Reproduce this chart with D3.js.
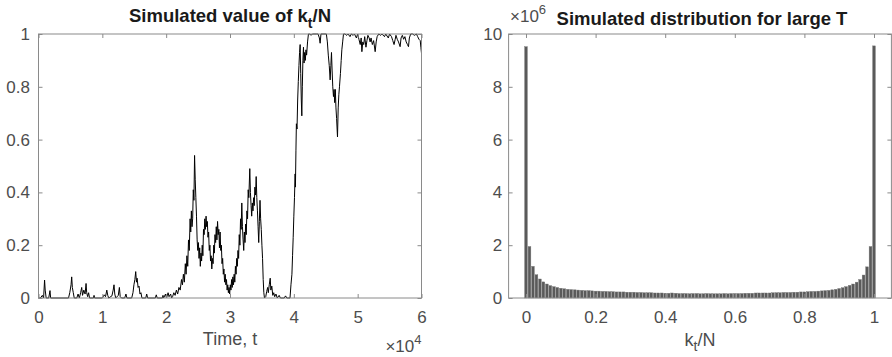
<!DOCTYPE html>
<html><head><meta charset="utf-8">
<script src="https://cdn.jsdelivr.net/npm/d3@7"></script>
<style>
body{margin:0;background:#fff}
svg{display:block}
text{font-family:"Liberation Sans",Arial,Helvetica,sans-serif}
</style>
</head><body>
<svg id="chart" width="892" height="357"></svg>
<script>
// ---- Left panel: simulated path of k_t/N ----
const timeSteps = [0,300,600,800,950,1050,1200,1600,1800,1900,4700,4900,5100,5200,5300,5450,5600,6000,6200,6400,6600,6770,6900,7100,7300,7450,7550,7700,7850,8000,8600,8700,8800,10000,10300,10500,10700,10850,11000,11500,11700,11830,11950,12100,12500,12670,12800,13000,13500,13700,13850,14600,14800,14950,15100,15230,15350,15450,15600,15750,15900,16050,16200,16800,16950,17100,18300,18450,18600,19400,19500,19600,19900,20050,20300,20450,20700,20850,
21000,21200,21400,21600,21800,22000,22200,22400,22550,22700,22850,23000,23120,23250,23380,23500,23620,23750,23850,23950,24050,24150,24250,24350,24450,24550,24650,24750,24850,24950,25050,25150,25250,25350,25450,25550,25650,25750,25850,25950,26050,26150,26250,26350,26450,26550,26650,26750,26850,26950,27050,27150,27250,27350,27450,27550,27650,27750,27850,27950,28050,28150,28250,28350,28450,28550,28650,28750,28850,28950,29050,29150,29250,29350,29450,29550,29650,29750,29850,29950,30050,30150,30250,30350,30450,30550,30650,30750,30850,30950,31050,31150,31250,31350,31450,31550,31650,31750,31850,31950,32050,32150,32250,32350,32450,32550,32650,32750,32850,32950,33100,33200,33300,33400,33500,33600,33700,33800,33900,34000,34100,34200,34300,34400,34500,34600,34700,34800,34900,35000,35100,35200,35300,35400,35600,35750,35900,36000,36150,36300,36400,36550,36700,36850,37000,37200,37400,37700,37900,38500,38700,38900,39400,39550,39700,39800,39900,40000,40100,40200,40250,40330,40400,40500,40600,40700,40800,40900,40990,41080,41170,41250,41330,41420,41510,41600,41700,41800,41900,42000,42150,42290,42500,42700,42900,43500,43800,44000,44120,44250,45100,45250,45400,45550,45690,45800,45900,46000,46100,46210,46300,46400,46500,46600,46700,46840,46950,47050,47150,47300,47420,47520,47650,47780,48000,48300,48500,48800,49000,49300,49500,49800,50000,50200,50400,50550,50660,50800,50950,51100,51300,51450,51600,51800,51950,52100,52300,52500,52740,52900,53050,53300,53600,53800,54200,54400,54800,55000,55300,55500,55700,55880,56000,56200,56400,56650,56800,57000,57200,57400,57600,57800,57960,58100,58300,58600,58900,59200,59400,59600,59800,59900,60000];
const kOverN = [0,0,0.01,0,0.068,0.03,0,0,0.028,0,0,0.02,0.05,0.08,0.04,0.02,0,0,0.015,0,0.02,0.04,0.01,0.03,0.015,0.055,0.02,0.005,0.02,0,0,0.01,0,0,0.012,0.005,0.03,0.01,0,0.008,0.03,0.05,0.015,0,0.01,0.04,0.005,0,0,0.015,0,0,0.02,0.05,0.07,0.1,0.06,0.075,0.04,0.045,0.015,0.02,0,0,0.015,0,0,0.012,0,0,0.01,0,0.015,0,0.02,0.005,0.015,0,
0.005,0.02,0.01,0.03,0.015,0.04,0.03,0.07,0.05,0.09,0.06,0.13,0.09,0.16,0.12,0.22,0.18,0.30,0.25,0.33,0.27,0.30,0.41,0.37,0.54,0.45,0.38,0.31,0.22,0.18,0.21,0.15,0.19,0.12,0.17,0.14,0.20,0.16,0.26,0.24,0.30,0.26,0.31,0.27,0.29,0.23,0.25,0.18,0.20,0.14,0.16,0.11,0.15,0.13,0.20,0.17,0.24,0.21,0.27,0.22,0.29,0.24,0.26,0.19,0.25,0.18,0.20,0.13,0.15,0.09,0.11,0.06,0.09,0.05,0.07,0.03,0.05,0.02,0.04,0.015,0.05,0.03,0.07,0.04,0.08,0.05,0.09,0.06,0.12,0.09,0.15,0.12,0.18,0.15,0.24,0.20,0.30,0.26,0.36,0.27,0.22,0.18,0.25,0.21,0.28,0.24,0.33,0.30,0.41,0.38,0.49,0.40,0.35,0.31,0.36,0.33,0.38,0.35,0.42,0.39,0.46,0.38,0.33,0.27,0.21,0.29,0.37,0.30,0.26,0.20,0.15,0.07,0.02,0,0.005,0.025,0.04,0.02,0.05,0.075,0.03,0.045,0.01,0.02,0.005,0.015,0,0.01,0,0,0.008,0,0,0.05,0.09,0.16,0.23,0.31,0.38,0.47,0.42,0.56,0.66,0.64,0.75,0.82,0.88,0.93,0.96,0.85,0.75,0.69,0.80,0.90,0.95,0.89,0.93,0.90,0.94,0.92,0.97,1,1,0.995,1,1,1,0.985,0.965,1,1,0.97,0.92,0.88,0.826,0.88,0.93,0.86,0.80,0.763,0.79,0.74,0.79,0.72,0.68,0.61,0.72,0.77,0.80,0.85,0.90,0.94,0.97,1,1,0.995,1,0.99,1,0.995,1,0.985,1,0.98,0.96,0.985,0.933,0.97,0.96,0.99,0.95,0.975,0.995,0.985,0.97,0.985,0.96,0.975,0.933,0.97,0.99,1,0.995,1,0.99,1,0.985,1,0.99,0.975,0.96,0.98,0.995,0.98,0.97,0.952,0.985,0.995,0.98,0.99,0.97,0.96,0.952,0.985,1,1,0.995,1,0.99,0.98,0.975,0.95,0.927];
const leftXTicks = [0,10000,20000,30000,40000,50000,60000];
const leftXTickLabels = ["0","1","2","3","4","5","6"];
const leftYTicks = [0,0.2,0.4,0.6,0.8,1];
const leftYTickLabels = ["0","0.2","0.4","0.6","0.8","1"];

// ---- Right panel: histogram of k_t/N (counts in units of 10^6) ----
const binCenters = [0,0.01,0.02,0.03,0.04,0.05,0.06,0.07,0.08,0.09,0.1,0.11,0.12,0.13,0.14,0.15,0.16,0.17,0.18,0.19,0.2,0.21,0.22,0.23,0.24,0.25,0.26,0.27,0.28,0.29,0.3,0.31,0.32,0.33,0.34,0.35,0.36,0.37,0.38,0.39,0.4,0.41,0.42,0.43,0.44,0.45,0.46,0.47,0.48,0.49,0.5,0.51,0.52,0.53,0.54,0.55,0.56,0.57,0.58,0.59,0.6,0.61,0.62,0.63,0.64,0.65,0.66,0.67,0.68,0.69,0.7,0.71,0.72,0.73,0.74,0.75,0.76,0.77,0.78,0.79,0.8,0.81,0.82,0.83,0.84,0.85,0.86,0.87,0.88,0.89,0.9,0.91,0.92,0.93,0.94,0.95,0.96,0.97,0.98,0.99,1];
const binCounts = [9.52,1.95,1.20,0.88,0.72,0.61,0.53,0.47,0.43,0.40,0.37,0.35,0.33,0.32,0.31,0.30,0.29,0.28,0.28,0.27,0.26,0.26,0.25,0.25,0.24,0.24,0.23,0.23,0.23,0.22,0.22,0.22,0.21,0.21,0.20,0.20,0.20,0.19,0.19,0.19,0.18,0.18,0.19,0.18,0.17,0.17,0.17,0.16,0.17,0.17,0.16,0.16,0.17,0.16,0.16,0.16,0.16,0.17,0.16,0.17,0.17,0.17,0.17,0.18,0.18,0.18,0.19,0.19,0.19,0.19,0.19,0.20,0.20,0.20,0.21,0.21,0.21,0.22,0.22,0.23,0.23,0.24,0.25,0.25,0.26,0.27,0.28,0.29,0.31,0.33,0.36,0.39,0.43,0.48,0.53,0.60,0.70,0.87,1.18,1.95,9.55];
const rightXTicks = [0,0.2,0.4,0.6,0.8,1];
const rightXTickLabels = ["0","0.2","0.4","0.6","0.8","1"];
const rightYTicks = [0,2,4,6,8,10];
const rightYTickLabels = ["0","2","4","6","8","10"];

const svg = d3.select("#chart");
const axisColor = "#8a8a8a";
const labelColor = "#4d4d4d";
const tickFont = 17;

function drawFrame(g, x, y, xTicks, xLabels, yTicks, yLabels, ypad) {
  const [x0,x1] = x.range(), [y0,y1] = y.range();
  const w = x1-x0, h = y0-y1;
  const fmtX = (d)=> xLabels[xTicks.indexOf(d)];
  const fmtY = (d)=> yLabels[yTicks.indexOf(d)];
  const style = sel => {
    sel.select(".domain").remove();
    sel.selectAll(".tick line").attr("stroke", axisColor);
    sel.selectAll(".tick text").attr("fill", labelColor).style("font-size", tickFont+"px").style("font-family","'Liberation Sans',Arial,sans-serif");
  };
  g.append("g").attr("transform",`translate(0,${y0})`)
    .call(d3.axisBottom(x).tickValues(xTicks).tickFormat(fmtX).tickSizeInner(-4).tickSizeOuter(0).tickPadding(13)).call(style);
  g.append("g").attr("transform",`translate(0,${y1})`)
    .call(d3.axisTop(x).tickValues(xTicks).tickFormat("").tickSizeInner(-4).tickSizeOuter(0)).call(style);
  g.append("g").attr("transform",`translate(${x0},0)`)
    .call(d3.axisLeft(y).tickValues(yTicks).tickFormat(fmtY).tickSizeInner(-4).tickSizeOuter(0).tickPadding(ypad)).call(style);
  g.append("g").attr("transform",`translate(${x1},0)`)
    .call(d3.axisRight(y).tickValues(yTicks).tickFormat("").tickSizeInner(-4).tickSizeOuter(0)).call(style);
  g.append("rect").attr("x",x0).attr("y",y1).attr("width",w).attr("height",h)
    .attr("fill","none").attr("stroke",axisColor).attr("stroke-width",1);
}

// Left panel
const xL = d3.scaleLinear().domain([0,60000]).range([38.5,421.5]);
const yL = d3.scaleLinear().domain([0,1]).range([298,34]);
const gL = svg.append("g");
const pts = timeSteps.map((t,i)=>[t,kOverN[i]]);
gL.append("path").datum(pts)
  .attr("d", d3.line().x(d=>xL(d[0])).y(d=>yL(d[1])))
  .attr("fill","none").attr("stroke","#000").attr("stroke-width",1).attr("stroke-linejoin","miter");
drawFrame(gL, xL, yL, leftXTicks, leftXTickLabels, leftYTicks, leftYTickLabels, 8.5);

const tL = gL.append("text").attr("x",230).attr("y",22).attr("text-anchor","middle")
  .style("font-size","18.5px").style("font-weight","bold").attr("fill","#1a1a1a");
tL.append("tspan").text("Simulated value of k");
tL.append("tspan").attr("dy",6).style("font-size","14px").text("t");
tL.append("tspan").attr("dy",-6).text("/N");

gL.append("text").attr("x",230).attr("y",345).attr("text-anchor","middle")
  .style("font-size","18px").attr("fill",labelColor).text("Time, t");
const eL = gL.append("text").attr("x",421.5).attr("y",352).attr("text-anchor","end")
  .style("font-size","17px").attr("fill",labelColor);
eL.append("tspan").text("\u00d710");
eL.append("tspan").attr("dy",-8).style("font-size","13px").text("4");

// Right panel
const xR = d3.scaleLinear().domain([-0.05,1.05]).range([508.6,891.4]);
const yR = d3.scaleLinear().domain([0,10]).range([298,34]);
const gR = svg.append("g");
const bw = xR(0.008)-xR(0);
gR.selectAll("rect.bar").data(binCenters).join("rect").attr("class","bar")
  .attr("x",(d)=>xR(d)-bw/2).attr("width",bw)
  .attr("y",(d,i)=>yR(binCounts[i])).attr("height",(d,i)=>yR(0)-yR(binCounts[i]))
  .attr("fill","#5a5a5a").attr("stroke","#7a7a7a").attr("stroke-width",0.4);
drawFrame(gR, xR, yR, rightXTicks, rightXTickLabels, rightYTicks, rightYTickLabels, 6.5);

gR.append("text").attr("x",702).attr("y",25).attr("text-anchor","middle")
  .style("font-size","18.5px").style("font-weight","bold").attr("fill","#1a1a1a")
  .text("Simulated distribution for large T");
const eR = gR.append("text").attr("x",510).attr("y",22).attr("text-anchor","start")
  .style("font-size","17px").attr("fill",labelColor);
eR.append("tspan").text("\u00d710");
eR.append("tspan").attr("dy",-8).style("font-size","13px").text("6");

const xlR = gR.append("text").attr("x",700).attr("y",346).attr("text-anchor","middle")
  .style("font-size","18px").attr("fill",labelColor);
xlR.append("tspan").text("k");
xlR.append("tspan").attr("dy",5).style("font-size","14px").text("t");
xlR.append("tspan").attr("dy",-5).text("/N");
</script>
</body></html>
